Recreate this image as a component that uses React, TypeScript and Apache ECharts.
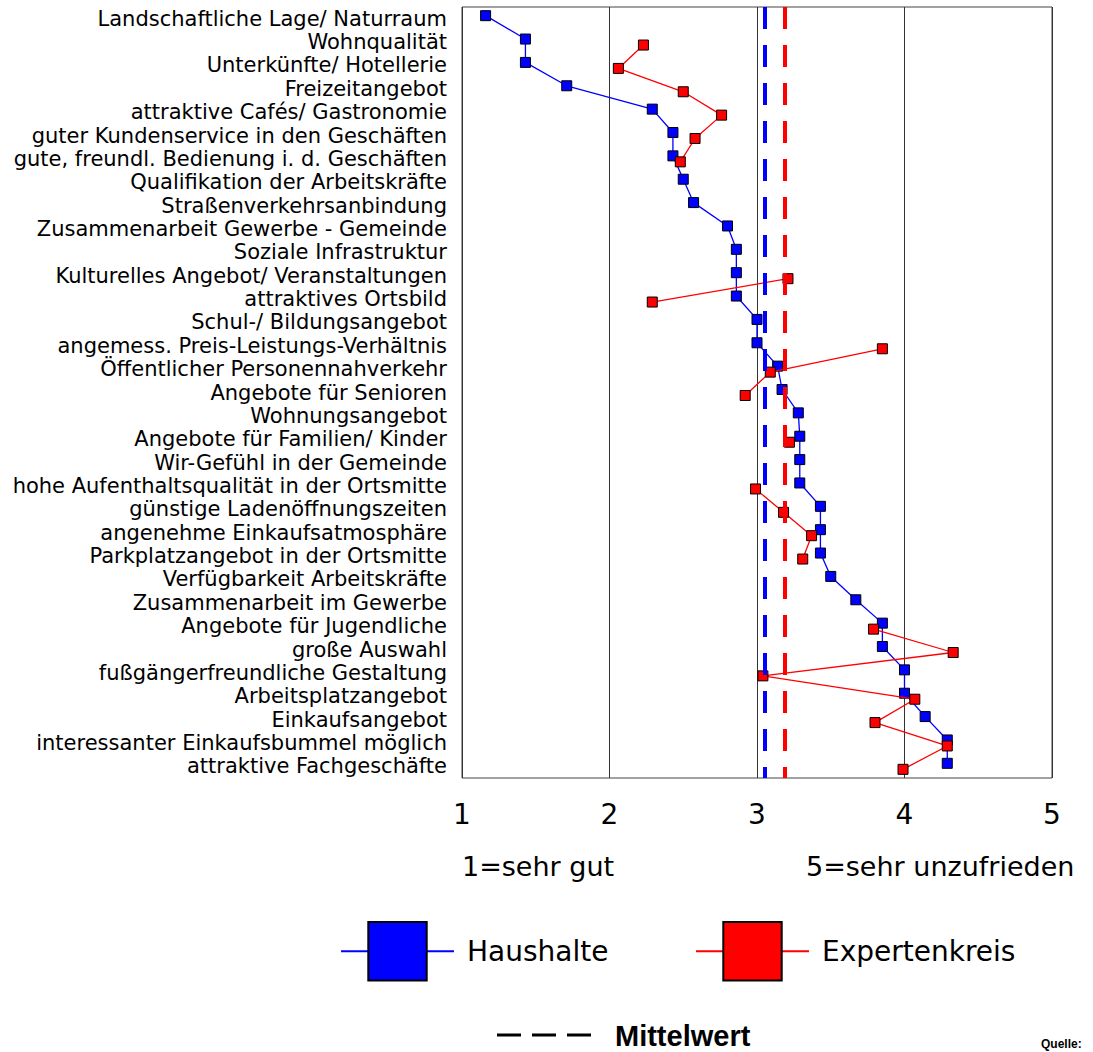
import React, { useEffect, useRef } from 'react';
import * as echarts from 'echarts';

const categories = [
  'Landschaftliche Lage/ Naturraum',
  'Wohnqualität',
  'Unterkünfte/ Hotellerie',
  'Freizeitangebot',
  'attraktive Cafés/ Gastronomie',
  'guter Kundenservice in den Geschäften',
  'gute, freundl. Bedienung i. d. Geschäften',
  'Qualifikation der Arbeitskräfte',
  'Straßenverkehrsanbindung',
  'Zusammenarbeit Gewerbe - Gemeinde',
  'Soziale Infrastruktur',
  'Kulturelles Angebot/ Veranstaltungen',
  'attraktives Ortsbild',
  'Schul-/ Bildungsangebot',
  'angemess. Preis-Leistungs-Verhältnis',
  'Öffentlicher Personennahverkehr',
  'Angebote für Senioren',
  'Wohnungsangebot',
  'Angebote für Familien/ Kinder',
  'Wir-Gefühl in der Gemeinde',
  'hohe Aufenthaltsqualität in der Ortsmitte',
  'günstige Ladenöffnungszeiten',
  'angenehme Einkaufsatmosphäre',
  'Parkplatzangebot in der Ortsmitte',
  'Verfügbarkeit Arbeitskräfte',
  'Zusammenarbeit im Gewerbe',
  'Angebote für Jugendliche',
  'große Auswahl',
  'fußgängerfreundliche Gestaltung',
  'Arbeitsplatzangebot',
  'Einkaufsangebot',
  'interessanter Einkaufsbummel möglich',
  'attraktive Fachgeschäfte',
];

const haushalte = [
  1.16, 1.43, 1.43, 1.71, 2.29, 2.43, 2.43, 2.5, 2.57, 2.8, 2.86, 2.86, 2.86,
  3.0, 3.0, 3.14, 3.17, 3.28, 3.29, 3.29, 3.29, 3.43, 3.43, 3.43, 3.5, 3.67,
  3.85, 3.85, 4.0, 4.0, 4.14, 4.29, 4.29,
];

const expertenkreis = [
  null, 2.23, 2.06, 2.5, 2.76, 2.58, 2.48, null, null, null, null, 3.21, 2.29,
  null, 3.85, 3.09, 2.92, null, 3.22, null, 2.99, 3.18, 3.37, 3.31, null, null,
  3.79, 4.33, 3.04, 4.07, 3.8, 4.29, 3.99,
];

const seriesNames = ['Haushalte', 'Expertenkreis'];
const scaleLabels = ['1=sehr gut', '5=sehr unzufrieden'];
const meanLabel = 'Mittelwert';
const sourceLabel = 'Quelle:';
const xMin = 1;
const xMax = 5;

function mean(arr: (number | null)[]) {
  const v = arr.filter((x) => x != null) as number[];
  return v.reduce((a, b) => a + b, 0) / v.length;
}

export default function App() {
  const ref = useRef<HTMLDivElement>(null);
  useEffect(() => {
    document.body.style.margin = '0';
    const chart = echarts.init(ref.current!, null, { renderer: 'svg' });
    const ff = 'DejaVu Sans';
    const gridBase = { left: 462, right: 41, height: 771 };
    const hiddenX = (i: number) => ({ gridIndex: i, type: 'value', min: xMin, max: xMax, show: false });
    const hiddenY = (i: number) => ({ gridIndex: i, type: 'category', data: categories, inverse: true, show: false });
    const legendBase = {
      top: 921,
      padding: 0,
      itemWidth: 113,
      itemHeight: 73,
      selectedMode: false,
      textStyle: { fontFamily: ff, fontSize: 28, color: '#000', padding: [0, 0, 0, 8] },
    };
    const option: any = {
      animation: false,
      backgroundColor: '#ffffff',
      grid: [
        { ...gridBase, top: 7, show: true, borderColor: '#444', borderWidth: 1, backgroundColor: 'transparent' },
        { ...gridBase, top: 4 },
        { ...gridBase, top: 10 },
      ],
      xAxis: [
        {
          gridIndex: 0,
          type: 'value',
          min: xMin,
          max: xMax,
          interval: 1,
          axisLine: { show: false },
          axisTick: { show: false },
          splitLine: { show: true, lineStyle: { color: '#333', width: 1 } },
          axisLabel: { fontFamily: ff, fontSize: 28, color: '#000', margin: 22 },
        },
        hiddenX(1),
        hiddenX(2),
      ],
      yAxis: [
        {
          gridIndex: 0,
          type: 'category',
          data: categories,
          inverse: true,
          axisLine: { show: false },
          axisTick: { show: false },
          splitLine: { show: false },
          axisLabel: { fontFamily: ff, fontSize: 21, color: '#000', margin: 15, interval: 0 },
        },
        hiddenY(1),
        hiddenY(2),
      ],
      legend: [
        { ...legendBase, data: [seriesNames[0]], left: 340 },
        { ...legendBase, data: [seriesNames[1]], left: 695 },
      ],
      series: [
        {
          name: 'mean',
          type: 'line',
          xAxisIndex: 0,
          yAxisIndex: 0,
          data: categories.map(() => null),
          z: 1,
          silent: true,
          markLine: {
            silent: true,
            symbol: ['none', 'none'],
            label: { show: false },
            data: [
              { xAxis: mean(haushalte), lineStyle: { color: '#0000ff', width: 4, type: [22, 16] } },
              { xAxis: mean(expertenkreis), lineStyle: { color: '#ff0000', width: 4, type: [22, 16] } },
            ],
          },
        },
        {
          name: seriesNames[0],
          type: 'line',
          xAxisIndex: 1,
          yAxisIndex: 1,
          data: haushalte,
          symbol: 'rect',
          symbolSize: 10,
          z: 3,
          lineStyle: { color: '#0000ff', width: 1.3 },
          itemStyle: { color: '#0000ff', borderColor: '#000', borderWidth: 1 },
        },
        {
          name: seriesNames[1],
          type: 'line',
          xAxisIndex: 2,
          yAxisIndex: 2,
          data: expertenkreis,
          connectNulls: false,
          symbol: 'rect',
          symbolSize: 10,
          z: 4,
          lineStyle: { color: '#ff0000', width: 1.3 },
          itemStyle: { color: '#ff0000', borderColor: '#000', borderWidth: 1 },
        },
      ],
      graphic: [
        {
          type: 'text',
          x: 462,
          y: 866,
          style: { text: scaleLabels[0], fontFamily: ff, fontSize: 27, fill: '#000', textVerticalAlign: 'middle' },
        },
        {
          type: 'text',
          x: 806,
          y: 866,
          style: { text: scaleLabels[1], fontFamily: ff, fontSize: 27, fill: '#000', textVerticalAlign: 'middle' },
        },
        {
          type: 'line',
          shape: { x1: 497, y1: 1035, x2: 591, y2: 1035 },
          style: { stroke: '#000', lineWidth: 3, lineDash: [24, 11] },
        },
        {
          type: 'text',
          x: 615,
          y: 1036,
          style: {
            text: meanLabel,
            fontFamily: 'Liberation Sans',
            fontWeight: 'bold',
            fontSize: 29,
            fill: '#000',
            textVerticalAlign: 'middle',
          },
        },
        {
          type: 'text',
          x: 1041,
          y: 1038,
          style: {
            text: sourceLabel,
            fontFamily: 'Liberation Sans',
            fontWeight: 'bold',
            fontSize: 12,
            fill: '#000',
            textVerticalAlign: 'top',
          },
        },
      ],
    };
    chart.setOption(option);
    return () => chart.dispose();
  }, []);
  return <div ref={ref} style={{ width: 1093, height: 1052 }} />;
}
